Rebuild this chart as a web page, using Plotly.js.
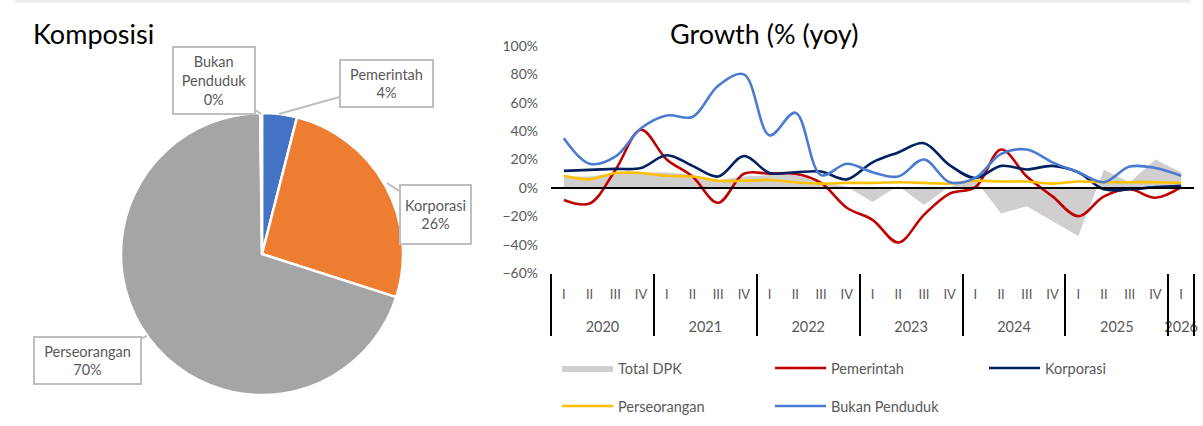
<!DOCTYPE html>
<html>
<head>
<meta charset="utf-8">
<script src="https://cdn.plot.ly/plotly-3.0.1.min.js"></script>
<style>html,body{margin:0;padding:0;background:#fff}#chart{width:1203px;height:426px}</style>
</head>
<body>
<div id="chart"></div>
<script>
// ---- data ----
const years = ['2020','2020','2020','2020','2021','2021','2021','2021','2022','2022','2022','2022',
               '2023','2023','2023','2023','2024','2024','2024','2024','2025','2025','2025','2025','2026'];
const quarters = ['I','II','III','IV','I','II','III','IV','I','II','III','IV',
                  'I','II','III','IV','I','II','III','IV','I','II','III','IV','I'];
const totalDPK      = [8, 8, 10.5, 11, 11, 9, 5.6, 8, 9, 9, 4, 1, -10, 1.5, -12, 1, 5.5, -18, -13, -23.5, -34, 12.7, 4, 20, 11];
const pemerintah    = [-8.5, -11, 12.5, 41, 20, 8, -10.5, 10, 10, 10, 3.5, -14, -22.5, -38.5, -19, -4, 0.5, 27, 8, -6, -20, -6, -1, -7, 0.5];
const korporasi     = [12, 12.7, 13.4, 14, 23, 15.5, 8, 22.5, 10.5, 11, 11.5, 6, 18, 25, 31.5, 16, 7, 15.5, 13, 15.5, 11, -1, -1, 0.5, 1.5];
const perseorangan  = [8.5, 6, 10.5, 10.5, 8.5, 8, 5, 5, 5.6, 4, 3, 3.5, 3.5, 4, 3.5, 3, 5, 4.5, 4.5, 3, 4.5, 4, 4, 4, 3.5];
const bukanPenduduk = [35, 17, 22, 42, 51, 50, 72, 80, 37, 53, 9, 17, 11, 8, 20, 4, 7, 24, 27, 18, 11, 4, 15, 14, 8.5];

const pieLabels = ['Pemerintah', 'Korporasi', 'Perseorangan', 'Bukan Penduduk'];
const pieLabelText = ['Pemerintah', 'Korporasi', 'Perseorangan', 'Bukan<br>Penduduk'];
const pieValues = [4, 26, 70, 0.2];
const pieColors = ['#4472C4', '#ED7D31', '#A5A5A5', '#FFC000'];

const seriesNames = ['Total DPK', 'Pemerintah', 'Korporasi', 'Perseorangan', 'Bukan Penduduk'];
const seriesColors = ['#D0CECE', '#C00000', '#002060', '#FFC000', '#4A7BD0'];
const seriesLegend = ['legend', 'legend', 'legend3', 'legend2', 'legend2'];

// ---- helpers ----
const W = 1203, H = 426;
const px = v => v / W;
const py = v => 1 - v / H;
const FONT = 'Lato, "Open Sans", sans-serif';
const GREY = '#595959';

const xLabels = years.map((y, i) => y + ' ' + quarters[i]);
// year groups (centres and boundaries) derived from the category arrays
const yearNames = [], yearCenters = [], bounds = [-0.5];
years.forEach((y, i) => {
  if (i === 0 || y !== years[i - 1]) {
    if (i > 0) bounds.push(i - 0.5);
    yearNames.push(y);
  }
});
bounds.push(years.length - 0.5);
yearNames.forEach((s, k) => { yearCenters.push((bounds[k] + bounds[k + 1]) / 2); });

const allSeries = [totalDPK, pemerintah, korporasi, perseorangan, bukanPenduduk];
const traces = allSeries.map((s, i) => {
  const t = {
    type: 'scatter', mode: 'lines', x: xLabels, y: s, name: seriesNames[i],
    xaxis: 'x', yaxis: 'y', legend: seriesLegend[i]
  };
  if (i === 0) {
    t.fill = 'tozeroy'; t.fillcolor = seriesColors[0];
    t.line = {width: 0, color: seriesColors[0]};
  } else {
    t.line = {color: seriesColors[i], width: 2.6, shape: 'spline', smoothing: 1};
  }
  return t;
});
// empty traces so the year-label axis and the divider axis are drawn
['x2', 'x3'].forEach(ax => traces.push({
  type: 'scatter', mode: 'lines', x: [], y: [], xaxis: ax, yaxis: 'y',
  showlegend: false, hoverinfo: 'skip'
}));

traces.push({
  type: 'pie', labels: pieLabels, values: pieValues, sort: false, direction: 'clockwise',
  rotation: 0, marker: {colors: pieColors, line: {color: '#ffffff', width: 2.5}},
  textinfo: 'none', showlegend: false, hoverinfo: 'label+percent',
  domain: {x: [px(121), px(403)], y: [py(395), py(113)]}
});

// pie callout labels
const total = pieValues.reduce((a, b) => a + b, 0);
const pct = pieValues.map(v => Math.round(v / total * 100) + '%');
const callouts = [
  {i: 0, pt: [279, 114], c: [386, 84], w: 83, h: 37},
  {i: 1, pt: [387, 183], c: [435, 214], w: 61, h: 49},
  {i: 2, pt: [147, 336], c: [87, 360], w: 97, h: 37},
  {i: 3, pt: [261, 114], c: [214, 81], w: 72, h: 57}
];
const annotations = callouts.map(o => ({
  xref: 'paper', yref: 'paper', x: px(o.pt[0]), y: py(o.pt[1]),
  ax: o.c[0] - o.pt[0], ay: o.c[1] - o.pt[1], axref: 'pixel', ayref: 'pixel',
  text: pieLabelText[o.i] + '<br>' + pct[o.i],
  showarrow: true, arrowhead: 0, arrowwidth: 2, arrowcolor: '#BFBFBF',
  bordercolor: '#BFBFBF', borderwidth: 2, borderpad: 4, bgcolor: '#ffffff',
  width: o.w, height: o.h, align: 'center', valign: 'middle',
  font: {family: FONT, size: 14.5, color: GREY}
}));
annotations.push({
  xref: 'paper', yref: 'paper', x: px(31), y: py(33), xanchor: 'left', yanchor: 'middle',
  text: 'Komposisi', showarrow: false, font: {family: FONT, size: 27, color: '#000'}
});
annotations.push({
  xref: 'paper', yref: 'paper', x: px(668), y: py(33), xanchor: 'left', yanchor: 'middle',
  text: 'Growth (% (yoy)', showarrow: false, font: {family: FONT, size: 27, color: '#000'}
});

const legendBase = {
  orientation: 'h', xanchor: 'left', yanchor: 'middle', bgcolor: 'rgba(0,0,0,0)',
  font: {family: FONT, size: 14.5, color: GREY}, entrywidth: 147, entrywidthmode: 'pixels',
  itemwidth: 51, traceorder: 'normal', itemclick: false
};

const xBase = {
  domain: [px(551), px(1194)], showgrid: false, zeroline: false, showline: false, fixedrange: true
};

const layout = {
  width: W, height: H,
  margin: {l: 0, r: 0, t: 0, b: 0, autoexpand: false},
  paper_bgcolor: '#fff', plot_bgcolor: 'rgba(0,0,0,0)',
  showlegend: true,
  xaxis: Object.assign({}, xBase, {
    type: 'category', categoryorder: 'array', categoryarray: xLabels, range: [-0.5, xLabels.length - 0.5],
    tickmode: 'array', tickvals: xLabels, ticktext: quarters, ticks: '', ticklabelstandoff: 12,
    tickfont: {family: FONT, size: 13, color: GREY}
  }),
  xaxis2: Object.assign({}, xBase, {
    overlaying: 'x', anchor: 'y', side: 'bottom', type: 'linear', range: [-0.5, xLabels.length - 0.5],
    tickmode: 'array', tickvals: yearCenters, ticktext: yearNames, ticks: '', ticklabelstandoff: 43,
    tickfont: {family: FONT, size: 14.5, color: GREY}
  }),
  xaxis3: Object.assign({}, xBase, {
    overlaying: 'x', anchor: 'y', side: 'bottom', type: 'linear', range: [-0.5, xLabels.length - 0.5],
    tickmode: 'array', tickvals: bounds, showticklabels: false,
    ticks: 'outside', ticklen: 62, tickwidth: 2, tickcolor: '#000'
  }),
  yaxis: {
    domain: [py(273), py(46)], range: [-60, 100], dtick: 20, tick0: 0, ticksuffix: '%',
    showgrid: false, showline: false, ticks: '', zeroline: true, zerolinecolor: '#000',
    zerolinewidth: 2, zerolinelayer: 'above traces', ticklabelstandoff: 12,
    tickfont: {family: FONT, size: 14, color: GREY}, fixedrange: true
  },
  legend: Object.assign({}, legendBase, {x: px(557), y: py(368)}),
  legend3: Object.assign({}, legendBase, {x: px(984), y: py(368), entrywidth: 0}),
  legend2: Object.assign({}, legendBase, {x: px(557), y: py(406)}),
  annotations: annotations,
  shapes: [{type: 'line', xref: 'paper', yref: 'paper', x0: px(15), x1: px(1190), y0: py(1), y1: py(1),
            line: {color: '#ECECEC', width: 3}}]
};

Plotly.newPlot('chart', traces, layout, {displayModeBar: false, staticPlot: true});
</script>
</body>
</html>
